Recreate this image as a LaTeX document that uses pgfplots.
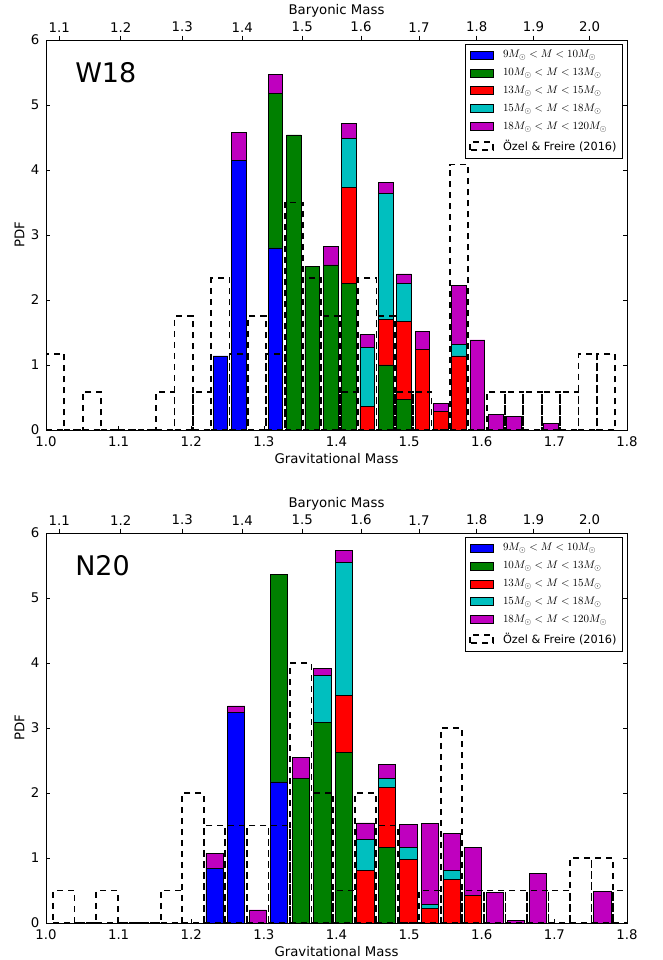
\documentclass[border=0pt]{standalone}
\usepackage[no-math]{fontspec}
\setmainfont{DejaVu Sans}
\usepackage{pgfplots}
\pgfplotsset{compat=1.18}
\usepackage{pgfplotstable}

\definecolor{mblue}{rgb}{0,0,1}
\definecolor{mgreen}{rgb}{0,0.5,0}
\definecolor{mred}{rgb}{1,0,0}
\definecolor{mcyan}{rgb}{0,0.75,0.75}
\definecolor{mmag}{rgb}{0.75,0,0.75}

% W18 stacked bars (individual component heights)
\pgfplotstableread{
x       b     g     r     c     m
1.24016 1.14  0     0     0     0
1.26544 4.15  0     0     0     0.43
1.29072 0     0     0     0     0
1.31600 2.80  2.38  0     0     0.29
1.34128 0     4.54  0     0     0
1.36656 0     2.52  0     0     0
1.39184 0     2.54  0     0     0.28
1.41712 0     2.26  1.47  0.75  0.23
1.44240 0     0     0.36  0.91  0.20
1.46768 0     1.00  0.70  1.94  0.17
1.49296 0     0.47  1.20  0.59  0.14
1.51824 0     0     1.24  0     0.27
1.54352 0     0     0.28  0     0.13
1.56880 0     0     1.14  0.18  0.90
1.59408 0     0     0     0     1.385
1.61936 0     0     0     0     0.24
1.64464 0     0     0     0     0.205
1.66992 0     0     0     0     0
1.69520 0     0     0     0     0.10
}\topbars

% W18 Ozel & Freire histogram
\pgfplotstableread{
x       y
1.01264 1.1667
1.03792 0
1.06320 0.5833
1.08848 0
1.11376 0
1.13904 0
1.16432 0.5833
1.18960 1.75
1.21488 0.5833
1.24016 2.3333
1.26544 1.1667
1.29072 1.75
1.31600 1.1667
1.34128 3.5
1.36656 2.3333
1.39184 1.75
1.41712 0.5833
1.44240 2.3333
1.46768 1.75
1.49296 0.5833
1.51824 0.5833
1.54352 0
1.56880 4.0833
1.59408 0
1.61936 0.5833
1.64464 0.5833
1.66992 0.5833
1.69520 0.5833
1.72048 0.5833
1.74576 1.1667
1.77104 1.1667
}\topof

% N20 stacked bars
\pgfplotstableread{
x       b     g     r     c     m
1.23215 0.84  0     0     0     0.23
1.26181 3.235 0     0     0     0.105
1.29147 0     0     0     0     0.20
1.32113 2.17  3.19  0     0     0
1.35079 0     2.23  0     0     0.32
1.38045 0     3.08  0     0.735 0.105
1.41011 0     2.62  0.88  2.05  0.18
1.43977 0     0     0.815 0.465 0.26
1.46943 0     1.16  0.93  0.14  0.215
1.49909 0     0     0.98  0.18  0.35
1.52875 0     0     0.22  0.07  1.24
1.55841 0     0     0.67  0.145 0.565
1.58807 0     0     0.42  0     0.745
1.61773 0     0     0     0     0.47
1.64739 0     0     0     0     0.046
1.67705 0     0     0     0     0.765
1.70671 0     0     0     0     0
1.73637 0     0     0     0     0
1.76603 0     0     0     0     0.48
}\botbars

% N20 Ozel & Freire histogram
\pgfplotstableread{
x       y
1.02453 0.5
1.05419 0
1.08385 0.5
1.11351 0
1.14317 0
1.17283 0.5
1.20249 2.0
1.23215 1.5
1.26181 1.5
1.29147 1.5
1.32113 1.5
1.35079 4.0
1.38045 2.0
1.41011 0.5
1.43977 2.0
1.46943 1.5
1.49909 0
1.52875 0.5
1.55841 3.0
1.58807 0.5
1.61773 0.5
1.64739 0.5
1.67705 0.5
1.70671 0.5
1.73637 1.0
1.76603 1.0
1.79569 0.5
}\botof

\pgfplotsset{
  base/.style={
    scale only axis, width=581pt, height=390pt,
    xmin=1.0, xmax=1.8, ymin=0, ymax=6,
    tick align=inside, major tick length=4.4pt,
    tick style={black, line width=0.6pt},
    axis line style={line width=0.8pt},
    tick label style={font=\fontsize{13.3}{16}\selectfont},
    label style={font=\fontsize{13.3}{16}\selectfont},
  },
  mainax/.style={
    base,
    xtick={1.0,1.1,1.2,1.3,1.4,1.5,1.6,1.7,1.8},
    xticklabels={1.0,1.1,1.2,1.3,1.4,1.5,1.6,1.7,1.8},
    ytick={0,1,2,3,4,5,6},
    yticklabels={0,1,2,3,4,5,6},
    xtick pos=left, xticklabel pos=left,
    ytick pos=both, yticklabel pos=left,
    yticklabel style={inner sep=1pt, xshift=-5.4pt},
    xticklabel style={inner sep=1pt, yshift=-5.4pt},
    xlabel={Gravitational Mass}, ylabel={PDF},
    xlabel style={yshift=-2pt},
    ylabel style={yshift=2pt},
    ybar stacked,
  },
  topax/.style={
    base,
    axis x line*=top, axis y line=none,
    xtick={1.0183,1.1029,1.1877,1.2703,1.3529,1.4338,1.5136,1.5930,1.6713,1.7485},
    xticklabels={1.1,1.2,1.3,1.4,1.5,1.6,1.7,1.8,1.9,2.0},
    xlabel={Baryonic Mass},
    xlabel style={yshift=-2pt},
    ybar, bar width=0.02528,
    legend cell align=left,
    legend style={at={(1,1)}, anchor=north east, xshift=-4pt, yshift=-4pt,
      font=\fontsize{11.3}{13.5}\selectfont, draw=black, line width=0.8pt,
      row sep=5pt, column sep=7pt, inner xsep=4pt, inner ysep=4pt},
  },
  patch/.style={legend image code/.code={\draw[##1] (0pt,-4pt) rectangle (23pt,4pt);}},
  seg/.style={draw=black, line width=0.7pt, fill=#1},
  ofstyle/.style={draw=black, fill=none, line width=1.8pt, dash pattern=on 6pt off 5pt},
}

\begin{document}
\begin{tikzpicture}
\useasboundingbox (0,0) rectangle (662pt,960pt);

% ===== Top panel (W18) =====
\begin{axis}[mainax, at={(46pt,530pt)}, anchor=south west, bar width=0.02022]
  \addplot[seg=mblue]  table[x=x,y=b] {\topbars};
  \addplot[seg=mgreen] table[x=x,y=g] {\topbars};
  \addplot[seg=mred]   table[x=x,y=r] {\topbars};
  \addplot[seg=mcyan]  table[x=x,y=c] {\topbars};
  \addplot[seg=mmag]   table[x=x,y=m] {\topbars};
  \node[anchor=base west, inner sep=0pt, font=\fontsize{27}{30}\selectfont] at (rel axis cs:0.05,0.892) {W18};
\end{axis}
\begin{axis}[topax, at={(46pt,530pt)}, anchor=south west]
  \addlegendimage{patch, seg=mblue}  \addlegendentry{$9M_\odot<M<10M_\odot$}
  \addlegendimage{patch, seg=mgreen} \addlegendentry{$10M_\odot<M<13M_\odot$}
  \addlegendimage{patch, seg=mred}   \addlegendentry{$13M_\odot<M<15M_\odot$}
  \addlegendimage{patch, seg=mcyan}  \addlegendentry{$15M_\odot<M<18M_\odot$}
  \addlegendimage{patch, seg=mmag}   \addlegendentry{$18M_\odot<M<120M_\odot$}
  \addplot[ofstyle, patch] table[x=x,y=y] {\topof};
  \addlegendentry{Özel \& Freire (2016)}
\end{axis}

% ===== Bottom panel (N20) =====
\begin{axis}[mainax, at={(46pt,37pt)}, anchor=south west, bar width=0.02373]
  \addplot[seg=mblue]  table[x=x,y=b] {\botbars};
  \addplot[seg=mgreen] table[x=x,y=g] {\botbars};
  \addplot[seg=mred]   table[x=x,y=r] {\botbars};
  \addplot[seg=mcyan]  table[x=x,y=c] {\botbars};
  \addplot[seg=mmag]   table[x=x,y=m] {\botbars};
  \node[anchor=base west, inner sep=0pt, font=\fontsize{27}{30}\selectfont] at (rel axis cs:0.05,0.89) {N20};
\end{axis}
\begin{axis}[topax, at={(46pt,37pt)}, anchor=south west, bar width=0.02966]
  \addlegendimage{patch, seg=mblue}  \addlegendentry{$9M_\odot<M<10M_\odot$}
  \addlegendimage{patch, seg=mgreen} \addlegendentry{$10M_\odot<M<13M_\odot$}
  \addlegendimage{patch, seg=mred}   \addlegendentry{$13M_\odot<M<15M_\odot$}
  \addlegendimage{patch, seg=mcyan}  \addlegendentry{$15M_\odot<M<18M_\odot$}
  \addlegendimage{patch, seg=mmag}   \addlegendentry{$18M_\odot<M<120M_\odot$}
  \addplot[ofstyle, patch] table[x=x,y=y] {\botof};
  \addlegendentry{Özel \& Freire (2016)}
\end{axis}
\end{tikzpicture}
\end{document}
